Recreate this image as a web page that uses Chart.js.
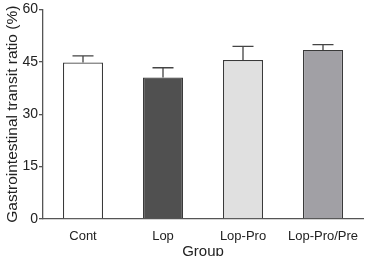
<!DOCTYPE html>
<html lang="en">
<head>
    <meta charset="UTF-8">
    <title>Gastrointestinal transit ratio</title>
    <script src="https://cdn.jsdelivr.net/npm/chart.js"></script>
    <style>
        html, body { margin: 0; padding: 0; background: #fff; }
        #wrap { width: 365px; height: 256px; position: relative; }
    </style>
</head>
<body>
    <div id="wrap"><canvas id="transitChart"></canvas></div>

    <script>
        const groups = ['Cont', 'Lop', 'Lop-Pro', 'Lop-Pro/Pre'];
        const means = [44.8, 40.5, 45.5, 48.4];
        const errors = [1.9, 2.8, 3.9, 1.5];
        const barColors = ['#ffffff', '#505050', '#e0e0e0', '#a1a0a5'];
        const yTicks = [0, 15, 30, 45, 60];

        // upper whisker only, like the original figure
        const errorBars = {
            id: 'errorBars',
            afterDatasetsDraw(chart) {
                const ctx = chart.ctx;
                const y = chart.scales.y;
                const meta = chart.getDatasetMeta(0);
                ctx.save();
                ctx.strokeStyle = '#444';
                ctx.lineWidth = 1.3;
                meta.data.forEach((bar, i) => {
                    const top = y.getPixelForValue(means[i] + errors[i]);
                    const base = y.getPixelForValue(means[i]);
                    ctx.beginPath();
                    ctx.moveTo(bar.x, base);
                    ctx.lineTo(bar.x, top);
                    ctx.moveTo(bar.x - 10.5, top);
                    ctx.lineTo(bar.x + 10.5, top);
                    ctx.stroke();
                });
                ctx.restore();
            }
        };

        const ctx = document.getElementById('transitChart').getContext('2d');
        new Chart(ctx, {
            type: 'bar',
            data: {
                labels: groups,
                datasets: [{
                    data: means,
                    backgroundColor: barColors,
                    borderColor: '#3a3a3a',
                    borderWidth: 1.2,
                    borderSkipped: 'bottom',
                    barPercentage: 0.5,
                    categoryPercentage: 1
                }]
            },
            options: {
                responsive: true,
                maintainAspectRatio: false,
                animation: false,
                layout: { padding: { top: 7, right: 2, left: 0, bottom: 0 } },
                plugins: {
                    legend: { display: false },
                    tooltip: { enabled: false }
                },
                scales: {
                    x: {
                        grid: { display: false },
                        border: { color: '#555', width: 1.3 },
                        ticks: {
                            color: '#222',
                            font: { family: 'Liberation Sans', size: 13 },
                            padding: 2
                        },
                        title: {
                            display: true,
                            text: 'Group',
                            color: '#222',
                            font: { family: 'Liberation Sans', size: 15 },
                            padding: { top: 0, bottom: -5 }
                        },
                        afterFit(scale) { scale.height = 37; }
                    },
                    y: {
                        min: 0,
                        max: 60,
                        afterBuildTicks(scale) {
                            scale.ticks = yTicks.map(v => ({ value: v }));
                        },
                        grid: {
                            drawOnChartArea: false,
                            tickLength: 4,
                            color: '#555',
                            lineWidth: 1.3
                        },
                        border: { color: '#555', width: 1.3 },
                        ticks: {
                            color: '#222',
                            font: { family: 'Liberation Sans', size: 14 },
                            padding: 1
                        },
                        title: {
                            display: true,
                            text: 'Gastrointestinal transit ratio (%)',
                            color: '#222',
                            font: { family: 'Liberation Sans', size: 15.5 },
                            padding: { top: 3, bottom: 0 }
                        },
                        afterFit(scale) { scale.width = 43; }
                    }
                }
            },
            plugins: [errorBars]
        });
    </script>
</body>
</html>
